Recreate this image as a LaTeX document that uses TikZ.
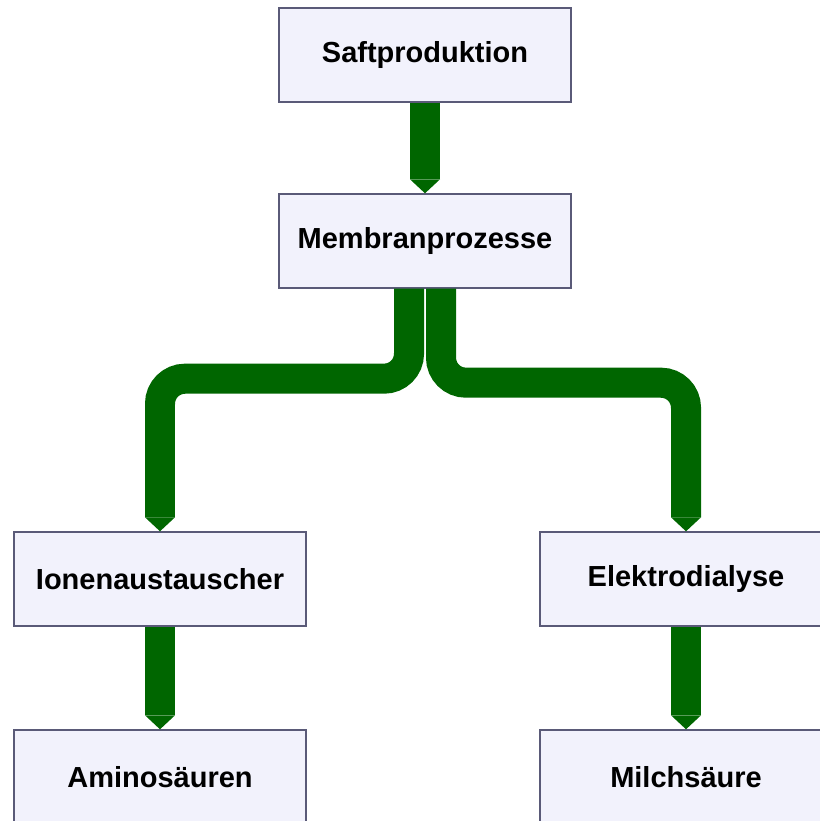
\documentclass[tikz,border=0pt]{standalone}
\usepackage{fontspec}
\setmainfont{Liberation Sans}
\usetikzlibrary{arrows.meta}
\definecolor{flowgreen}{RGB}{0,102,0}
\definecolor{boxline}{RGB}{90,90,120}
\definecolor{boxfill}{RGB}{242,242,252}

\begin{document}
\begin{tikzpicture}[x=0.02cm,y=-0.02cm,>/.tip={Triangle[width=0.6cm,length=0.28cm,line width=0pt]},
	box/.style={draw=boxline,fill=boxfill,line width=0.8pt,minimum width=5.84cm,minimum height=1.88cm,font=\bfseries\fontsize{16.5}{20}\selectfont},
	flow/.style={color=flowgreen,line width=0.6cm}]
	\clip (0,0) rectangle (820,821);
	\draw (425,55) node (saft) [box] {Saftproduktion};
	\draw (425,241) node (membran) [box] {Membranprozesse};
	\draw (160,579) node (ionen) [box] {Ionenaustauscher};
	\draw (686,579) node (elektro) [box] {Elektrodialyse};
	\draw (160,777) node (amino) [box] {Aminosäuren};
	\draw (686,777) node (milch) [box] {Milchsäure};
	\path[flow,->] (saft) edge (membran);
	\draw[flow,->,rounded corners=0.5cm] ([xshift=-0.32cm]membran.south) -- ++(0,90) -| (ionen.north);
	\draw[flow,->,rounded corners=0.5cm] ([xshift=0.32cm]membran.south) -- ++(0,94) -| (elektro.north);
	\path[flow,->] (ionen) edge (amino);
	\path[flow,->] (elektro) edge (milch);
\end{tikzpicture}
\end{document}
